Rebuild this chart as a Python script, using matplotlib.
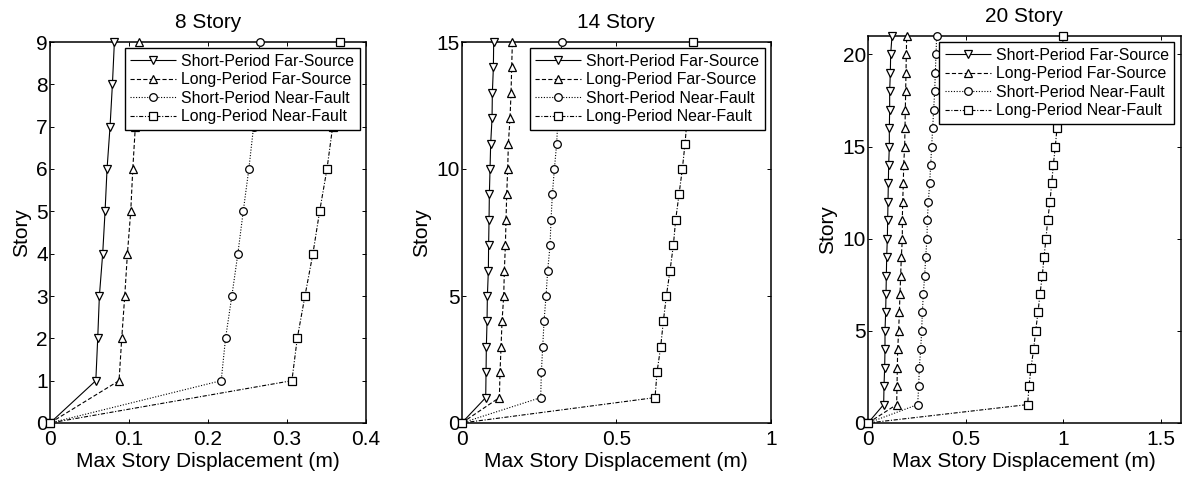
import matplotlib
matplotlib.use("Agg")
import matplotlib.pyplot as plt

LABELS = ["Short-Period Far-Source", "Long-Period Far-Source",
          "Short-Period Near-Fault", "Long-Period Near-Fault"]

# 8 story building, levels 0..9
S8_STORY = list(range(10))
S8_SPFS = [0, 0.058, 0.0604, 0.0625, 0.0667, 0.0697, 0.0722, 0.076, 0.079, 0.0815]
S8_LPFS = [0, 0.0874, 0.0908, 0.0946, 0.098, 0.1022, 0.1048, 0.108, 0.110, 0.1128]
S8_SPNF = [0, 0.2167, 0.2222, 0.2302, 0.2378, 0.2446, 0.2517, 0.2577, 0.262, 0.2657]
S8_LPNF = [0, 0.3062, 0.313, 0.3227, 0.3328, 0.3413, 0.3506, 0.3578, 0.362, 0.367]

# 14 story building, levels 0..15
S14_STORY = list(range(16))
S14_SPFS = [0, 0.0776, 0.0787, 0.0797, 0.0819, 0.083, 0.0862, 0.087, 0.0884, 0.0894,
            0.0916, 0.0937, 0.0981, 0.0991, 0.1024, 0.1034]
S14_LPFS = [0, 0.1218, 0.1239, 0.1272, 0.1304, 0.1358, 0.1379, 0.1412, 0.1433, 0.1455,
            0.1487, 0.1509, 0.1562, 0.1595, 0.1616, 0.1638]
S14_SPNF = [0, 0.2554, 0.2575, 0.2619, 0.2662, 0.2726, 0.278, 0.2856, 0.2888, 0.2931,
            0.2996, 0.3071, 0.311, 0.316, 0.320, 0.3233]
S14_LPNF = [0, 0.625, 0.6315, 0.6433, 0.6519, 0.6616, 0.6735, 0.6843, 0.6918, 0.7026,
            0.7134, 0.722, 0.729, 0.735, 0.741, 0.7468]

# 20 story building, levels 0..21
S20_STORY = list(range(22))
S20_SPFS = [0, 0.0802, 0.0819, 0.0853, 0.087, 0.087, 0.0904, 0.0922, 0.0939, 0.0956,
            0.099, 0.1007, 0.1024, 0.1041, 0.1058, 0.1092, 0.1092, 0.1109, 0.1109,
            0.1143, 0.116, 0.1229]
S20_LPFS = [0, 0.1468, 0.1485, 0.1502, 0.1519, 0.157, 0.1604, 0.1638, 0.1672, 0.1706,
            0.1758, 0.1758, 0.1775, 0.1809, 0.1826, 0.1877, 0.1894, 0.1911, 0.1928,
            0.1945, 0.1962, 0.198]
S20_SPNF = [0, 0.2543, 0.2594, 0.2628, 0.2696, 0.2747, 0.2782, 0.2833, 0.2901, 0.2952,
            0.302, 0.3038, 0.3089, 0.3157, 0.3208, 0.3259, 0.331, 0.3362, 0.3413,
            0.3447, 0.3481, 0.3515]
S20_LPNF = [0, 0.8174, 0.8242, 0.8345, 0.8481, 0.8584, 0.8703, 0.8805, 0.8925, 0.901,
            0.9113, 0.9198, 0.9317, 0.9403, 0.9488, 0.959, 0.9676, 0.974, 0.981,
            0.988, 0.994, 0.9993]

STYLES = [("v", (0, ())), ("^", (0, (3.0, 1.6))),
          ("o", (0, (0.8, 1.2))), ("s", (0, (3.0, 1.2, 0.8, 1.2)))]
SIZES = [6.4, 6.4, 5.5, 5.2]

plt.rcParams["font.family"] = "Liberation Sans"
plt.rcParams["font.size"] = 15
plt.rcParams["lines.scale_dashes"] = False

fig = plt.figure(figsize=(11.82, 4.8), dpi=100)

panels = [
    ("8 Story", S8_STORY, [S8_SPFS, S8_LPFS, S8_SPNF, S8_LPNF],
     [50, 42, 366, 423], (0, 0.4), [0, 0.1, 0.2, 0.3, 0.4], ["0", "0.1", "0.2", "0.3", "0.4"],
     (0, 9), list(range(10))),
    ("14 Story", S14_STORY, [S14_SPFS, S14_LPFS, S14_SPNF, S14_LPNF],
     [461.7, 42, 771, 423], (0, 1), [0, 0.5, 1], ["0", "0.5", "1"],
     (0, 15), [0, 5, 10, 15]),
    ("20 Story", S20_STORY, [S20_SPFS, S20_LPFS, S20_SPNF, S20_LPNF],
     [868, 36, 1180.5, 423], (0, 1.6), [0, 0.5, 1, 1.5], ["0", "0.5", "1", "1.5"],
     (0, 21), [0, 5, 10, 15, 20]),
]

W, H = 1182, 480
for title, story, series, box, xlim, xt, xtl, ylim, yt in panels:
    l, t, r, b = box
    ax = fig.add_axes([l / W, 1 - b / H, (r - l) / W, (b - t) / H])
    for vals, (mk, ls), lab, ms in zip(series, STYLES, LABELS, SIZES):
        ax.plot(vals, story, color="black", lw=0.8, linestyle=ls, marker=mk,
                markersize=ms, markerfacecolor="white", markeredgecolor="black",
                markeredgewidth=0.9, label=lab, clip_on=False, zorder=3)
    ax.set_xlim(*xlim)
    ax.set_ylim(*ylim)
    ax.set_xticks(xt)
    ax.set_xticklabels(xtl)
    ax.set_yticks(yt)
    ax.tick_params(direction="in", top=True, right=True, length=3, width=0.7,
                   labelsize=15)
    ax.tick_params(axis="y", pad=1.5)
    ax.tick_params(axis="x", pad=5)
    for sp in ax.spines.values():
        sp.set_linewidth(1.1)
    ax.set_title(title, fontsize=15, pad=10)
    ax.set_xlabel("Max Story Displacement (m)", fontsize=15, labelpad=2)
    ax.set_ylabel("Story", fontsize=15, labelpad=4)
    leg = ax.legend(loc="upper right", fontsize=11.4, frameon=True, fancybox=False,
                    edgecolor="black", framealpha=1, borderpad=0.35, labelspacing=0.22,
                    handlelength=2.9, handletextpad=0.3, borderaxespad=0.4)
    leg.get_frame().set_linewidth(1.0)
    leg.set_zorder(5)

fig.savefig("out.png", dpi=100, facecolor="white")
